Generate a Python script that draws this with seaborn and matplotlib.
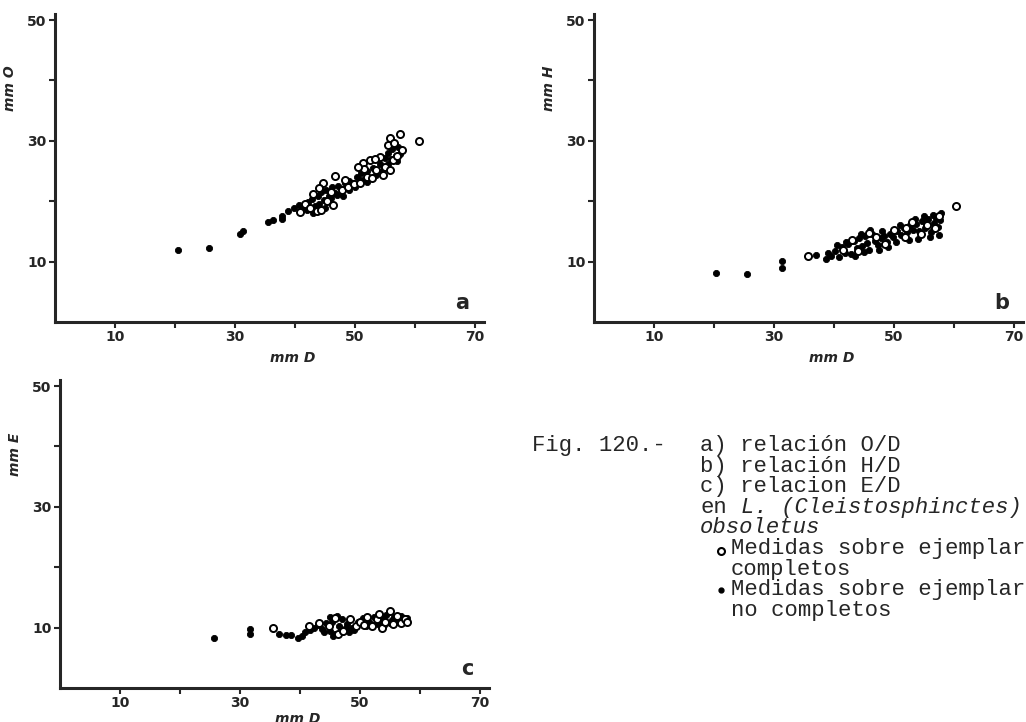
import numpy as np
import pandas as pd
import matplotlib
matplotlib.use("Agg")
import matplotlib.pyplot as plt
from matplotlib.lines import Line2D
import seaborn as sns

# Datos (mm)
# a) O frente a D
a_inc_D = [20.5, 25.7, 30.8, 31.3, 35.5, 36.4, 37.8, 37.8, 38.9, 39.8, 40.6, 41.5, 42.2, 42.8,
           43.3, 43.9, 44.3, 44.8, 45.2, 45.6, 46.1, 46.6, 47.2, 47.8, 48.3, 49.0, 49.6, 50.3,
           51.0, 52.0, 53.0, 54.2, 55.0, 55.6, 56.2, 56.8, 57.2,
           44.0, 45.0, 46.0, 47.0, 48.0, 49.0, 50.0, 51.0, 52.0, 53.5, 54.5, 55.5, 56.0, 57.0,
           57.5, 43.0, 42.0]
a_inc_O = [11.9, 12.2, 14.6, 15.1, 16.5, 16.9, 17.0, 17.6, 18.4, 18.8, 19.4, 19.0, 19.8, 20.3,
           19.2, 20.8, 21.5, 20.2, 21.9, 20.9, 22.3, 21.4, 22.6, 22.0, 23.1, 23.4, 23.0, 24.0,
           24.6, 25.0, 25.5, 26.1, 27.2, 28.0, 28.6, 27.5, 28.9,
           19.5, 18.8, 20.5, 21.0, 20.8, 21.8, 22.3, 23.5, 23.2, 24.3, 25.0, 26.2, 27.0, 26.6,
           27.8, 18.0, 18.5]
a_com_D = [40.8, 41.6, 42.5, 43.6, 44.4, 44.7, 45.3, 46.4, 46.7, 47.8, 48.9, 49.9, 50.8, 51.4,
           52.0, 52.5, 52.8, 53.6, 54.2, 54.7, 55.0, 55.5, 55.8, 55.8, 56.4, 57.0, 57.6, 57.8,
           56.5, 60.7, 53.3, 51.5, 50.5, 48.4, 46.0, 43.0, 44.0]
a_com_O = [18.2, 19.6, 18.9, 18.3, 18.5, 23.0, 20.0, 19.3, 24.1, 21.8, 22.4, 22.8, 23.0, 26.3,
           24.0, 26.8, 23.8, 25.1, 27.3, 24.3, 25.6, 29.3, 25.1, 30.5, 26.8, 27.5, 31.1, 28.4,
           29.6, 30.0, 27.0, 25.3, 25.6, 23.5, 21.5, 21.2, 22.2]

# b) H frente a D
b_inc_D = [20.3, 25.5, 31.4, 31.4, 37.0, 38.7, 39.5, 40.2, 40.8, 41.3, 41.8, 42.4, 42.9, 43.3,
           43.8, 44.2, 44.6, 45.1, 45.5, 45.9, 46.3, 46.8, 47.3, 47.8, 48.3, 48.8, 49.4, 49.9,
           50.5, 51.1, 51.6, 52.2, 52.7, 53.2, 53.7, 54.2, 54.7, 55.2, 55.7, 56.1, 56.6, 57.0,
           57.4, 57.7,
           42.0, 43.5, 44.5, 45.0, 46.0, 47.5, 48.0, 49.0, 50.3, 51.0, 52.5, 53.5, 54.0, 55.0,
           56.0, 56.5, 57.5, 57.8, 40.5, 39.0]
b_inc_H = [8.1, 7.9, 10.1, 8.9, 11.1, 10.5, 10.9, 11.8, 10.8, 12.4, 11.5, 12.9, 11.2, 13.4,
           12.2, 13.9, 12.6, 14.3, 13.1, 12.0, 14.6, 13.4, 12.7, 13.9, 14.2, 13.3, 14.6, 14.0,
           15.0, 14.4, 15.5, 14.9, 16.0, 15.2, 16.3, 15.0, 16.8, 15.6, 17.1, 14.9, 16.4, 17.3,
           15.8, 16.9,
           13.3, 11.0, 14.6, 11.6, 15.2, 11.9, 15.0, 12.5, 13.2, 16.0, 13.6, 17.0, 13.8, 17.6,
           14.0, 17.8, 14.4, 18.0, 12.8, 11.5]
b_com_D = [35.6, 60.3, 41.5, 43.0, 44.0, 45.8, 47.0, 48.5, 50.0, 51.8, 53.0, 54.5, 55.5, 56.8,
           57.5, 52.0]
b_com_H = [10.9, 19.2, 12.0, 13.6, 11.8, 14.8, 14.0, 13.0, 15.2, 14.0, 16.6, 14.6, 16.0, 15.5,
           17.6, 15.6]

# c) E frente a D
c_inc_D = [25.6, 31.7, 31.7, 36.5, 37.6, 38.5, 39.6, 40.3, 40.9, 41.6, 42.3, 43.0, 43.6, 44.3,
           45.0, 45.4, 45.9, 46.5, 47.0, 47.6, 48.2, 49.6, 50.5, 51.5, 52.3, 53.0, 53.8, 54.4,
           55.0, 55.6, 56.2, 56.9, 57.4,
           44.0, 45.5, 46.8, 47.8, 48.6, 49.0, 51.0, 52.6, 54.0, 55.3, 56.5, 57.8, 45.0, 46.2]
c_inc_E = [8.2, 9.7, 8.9, 8.9, 8.8, 8.7, 8.3, 8.6, 9.2, 9.6, 9.9, 10.5, 9.8, 10.7,
           9.5, 11.0, 9.0, 10.2, 11.4, 10.0, 9.3, 11.0, 11.6, 10.9, 11.8, 10.6, 11.4, 12.1,
           10.8, 11.7, 11.0, 11.9, 11.2,
           9.2, 8.6, 9.8, 10.6, 10.0, 9.6, 10.3, 10.8, 10.5, 11.2, 11.5, 11.6, 11.8, 12.0]
c_com_D = [35.5, 41.5, 43.2, 44.8, 45.8, 46.4, 47.2, 48.4, 49.3, 50.0, 50.6, 51.2, 52.0, 52.8,
           53.6, 54.2, 55.0, 55.5, 56.2, 56.8, 57.5, 57.8, 53.2]
c_com_E = [10.0, 10.2, 10.8, 10.3, 11.6, 8.9, 9.4, 11.5, 10.2, 11.0, 10.4, 11.7, 10.2, 11.4,
           10.0, 11.0, 12.7, 10.6, 12.0, 10.8, 11.4, 11.0, 12.2]

xticks = [10, 20, 30, 40, 50, 60, 70]
xticklabels = ["10", "", "30", "", "50", "", "70"]
yticks = [10, 20, 30, 40, 50]
yticklabels = ["10", "", "30", "", "50"]

sns.set_style("ticks")
plt.rcParams['font.family'] = ['DejaVu Sans']

fig = plt.figure(figsize=(10.26, 7.22), dpi=100)

paneles = [
    ([0.0536, 0.554, 0.418, 0.4266], a_inc_D, a_inc_O, a_com_D, a_com_O, "mm O", "a", -0.095),
    ([0.579, 0.554, 0.418, 0.4266], b_inc_D, b_inc_H, b_com_D, b_com_H, "mm H", "b", -0.095),
    ([0.0585, 0.0471, 0.418, 0.4266], c_inc_D, c_inc_E, c_com_D, c_com_E, "mm E", "c", -0.078),
]

for rect, xi, yi, xc, yc, ylab, letra, ypos in paneles:
    ax = fig.add_axes(rect)
    df_inc = pd.DataFrame({"D": xi, "v": yi})
    df_com = pd.DataFrame({"D": xc, "v": yc})
    sns.scatterplot(data=df_inc, x="D", y="v", ax=ax, color="black", s=20,
                    edgecolor="black", linewidth=0.6)
    sns.scatterplot(data=df_com, x="D", y="v", ax=ax, color="white", s=26,
                    edgecolor="black", linewidth=1.4)
    ax.set_xlim(0, 71.5)
    ax.set_ylim(0, 51)
    ax.set_xticks(xticks)
    ax.set_xticklabels(xticklabels, fontweight="bold", fontsize=10)
    ax.set_yticks(yticks)
    ax.set_yticklabels(yticklabels, fontweight="bold", fontsize=10)
    ax.tick_params(length=4, width=1.5, pad=2)
    sns.despine(ax=ax)
    for s in ["left", "bottom"]:
        ax.spines[s].set_linewidth(2.2)
    ax.set_xlabel("mm D", fontweight="bold", fontstyle="italic", fontsize=10)
    ax.set_ylabel(ylab, fontweight="bold", fontstyle="italic", fontsize=10)
    ax.xaxis.set_label_coords(0.555, ypos)
    ax.yaxis.set_label_coords(-0.088, 0.76)
    ax.text(0.95, 0.03, letra, transform=ax.transAxes, fontsize=15,
            fontweight="bold", ha="center", va="bottom")

# Pie de figura (texto mecanografiado)
mono = "Liberation Mono"
fs = 16
W, H = 1026, 722
cw = 13.6  # ancho de carácter en px


def fx(px):
    return px / W


def fy(py):
    return 1 - py / H


base = [451 + 20.6 * i for i in range(9)]
fig.text(fx(532), fy(base[0]), "Fig. 120.-", family=mono, fontsize=fs, va="baseline")
fig.text(fx(700), fy(base[0]), "a) relación O/D", family=mono, fontsize=fs, va="baseline")
fig.text(fx(700), fy(base[1]), "b) relación H/D", family=mono, fontsize=fs, va="baseline")
fig.text(fx(700), fy(base[2]), "c) relacion E/D", family=mono, fontsize=fs, va="baseline")
fig.text(fx(700), fy(base[3]), "en", family=mono, fontsize=fs, va="baseline")
fig.text(fx(700 + 3 * cw), fy(base[3]), "L. (Cleistosphinctes)", family=mono,
         fontsize=fs, fontstyle="italic", va="baseline")
fig.text(fx(700), fy(base[4]), "obsoletus", family=mono, fontsize=fs,
         fontstyle="italic", va="baseline")
fig.text(fx(731), fy(base[5]), "Medidas sobre ejemplares", family=mono, fontsize=fs,
         va="baseline")
fig.text(fx(731), fy(base[6]), "completos", family=mono, fontsize=fs, va="baseline")
fig.text(fx(731), fy(base[7]), "Medidas sobre ejemplares", family=mono, fontsize=fs,
         va="baseline")
fig.text(fx(731), fy(base[8]), "no completos", family=mono, fontsize=fs, va="baseline")

fig.add_artist(Line2D([fx(721)], [fy(base[5] - 3)], marker="o", markersize=5,
                      markerfacecolor="white", markeredgecolor="black",
                      markeredgewidth=1.5, linestyle="none"))
fig.add_artist(Line2D([fx(721)], [fy(base[7] - 5)], marker="o", markersize=3.5,
                      color="black", linestyle="none"))

fig.savefig("out.png", dpi=100)
